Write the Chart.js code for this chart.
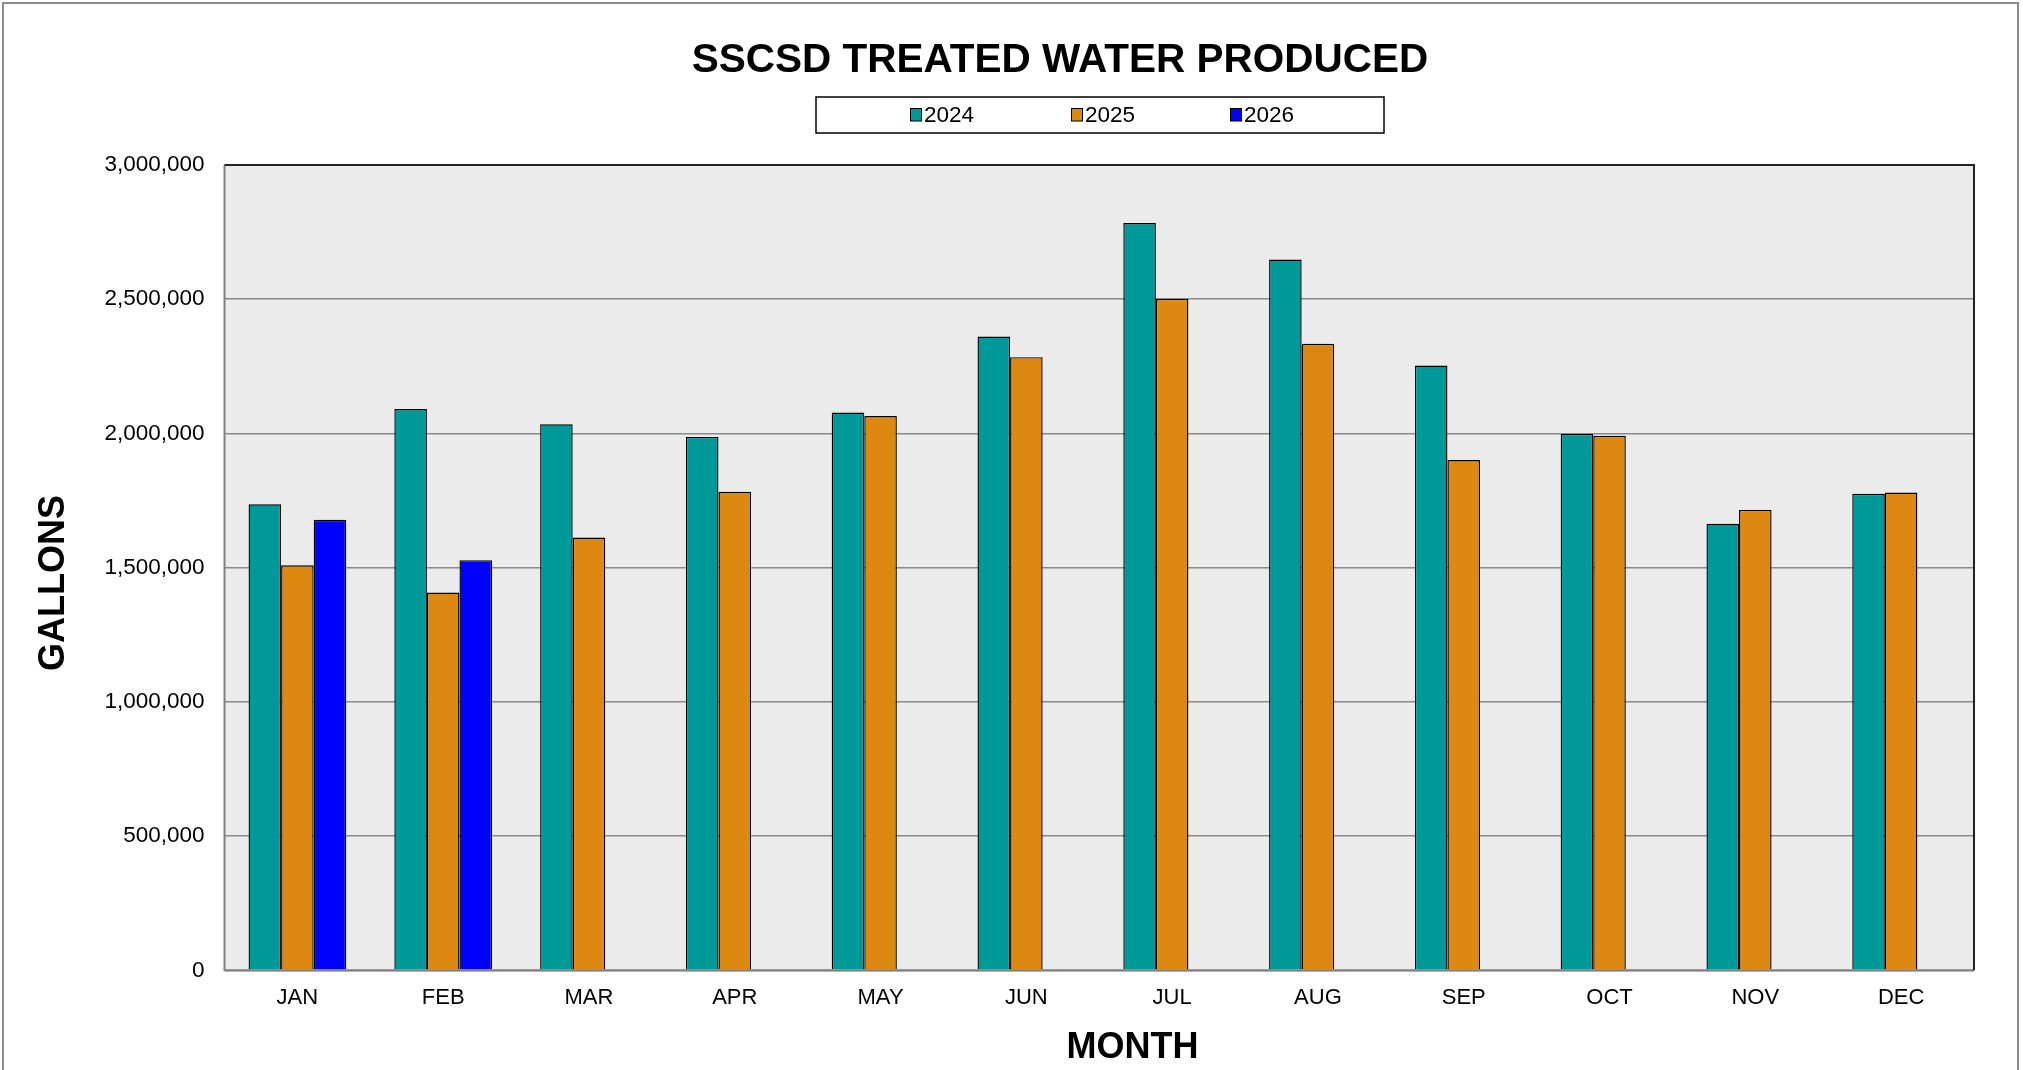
<!DOCTYPE html>
<html>
<head>
<meta charset="utf-8">
<script src="https://cdn.jsdelivr.net/npm/chart.js@4.4.1/dist/chart.umd.min.js"></script>
<style>
  html, body { margin: 0; padding: 0; background: #ffffff; }
  #wrap { width: 2023px; height: 1070px; }
</style>
</head>
<body>
<div id="wrap"><canvas id="c" width="2023" height="1070"></canvas></div>
<script>
const months = ["JAN","FEB","MAR","APR","MAY","JUN","JUL","AUG","SEP","OCT","NOV","DEC"];
const seriesNames = ["2024","2025","2026"];
const values2024 = [1736000,2091000,2034000,1987000,2078000,2361000,2784000,2648000,2253000,1998000,1664000,1775000];
const values2025 = [1509000,1407000,1612000,1783000,2065000,2284000,2501000,2334000,1901000,1991000,1715000,1780000];
const values2026 = [1678000,1528000,null,null,null,null,null,null,null,null,null,null];
const yTicks = [0,500000,1000000,1500000,2000000,2500000,3000000];
const colors = ["#009999","#DD8811","#0000FF"];

const FONT = "'Liberation Sans', Arial, Helvetica, sans-serif";

const decor = {
  id: 'decor',
  beforeDraw(chart) {
    const ctx = chart.ctx, a = chart.chartArea;
    ctx.save();
    ctx.fillStyle = '#ffffff';
    ctx.fillRect(0, 0, chart.width, chart.height);
    ctx.fillStyle = '#EBEBEB';
    ctx.fillRect(a.left, a.top, a.right - a.left, a.bottom - a.top);
    ctx.restore();
  },
  afterDraw(chart) {
    const ctx = chart.ctx, a = chart.chartArea;
    ctx.save();
    // plot border
    ctx.lineWidth = 2;
    ctx.strokeStyle = '#808080';
    ctx.beginPath();
    ctx.moveTo(a.left, a.top); ctx.lineTo(a.left, a.bottom); ctx.lineTo(a.right, a.bottom);
    ctx.stroke();
    ctx.strokeStyle = '#222222';
    ctx.beginPath();
    ctx.moveTo(a.left, a.top); ctx.lineTo(a.right, a.top); ctx.lineTo(a.right, a.bottom);
    ctx.stroke();

    // outer frame
    ctx.strokeStyle = '#8c8c8c';
    ctx.lineWidth = 2;
    ctx.beginPath();
    ctx.moveTo(3, chart.height + 5); ctx.lineTo(3, 3); ctx.lineTo(2018, 3); ctx.lineTo(2018, chart.height + 5);
    ctx.stroke();

    // title
    ctx.fillStyle = '#000000';
    ctx.textAlign = 'center';
    ctx.textBaseline = 'alphabetic';
    ctx.font = 'bold 40.5px ' + FONT;
    ctx.fillText('SSCSD TREATED WATER PRODUCED', 1060, 71.5);

    // legend box
    ctx.fillStyle = '#ffffff';
    ctx.fillRect(816, 97, 568, 36);
    ctx.strokeStyle = '#000000';
    ctx.lineWidth = 1.5;
    ctx.strokeRect(816, 97, 568, 36);
    const itemX = [910, 1071, 1230];
    chart.data.datasets.forEach((ds, i) => {
      const x = itemX[i];
      ctx.fillStyle = ds.backgroundColor;
      ctx.fillRect(x, 108.5, 11, 12.5);
      ctx.lineWidth = 1;
      ctx.strokeStyle = '#000000';
      ctx.strokeRect(x + 0.5, 108.5, 11, 12.5);
      ctx.fillStyle = '#000000';
      ctx.textAlign = 'left';
      ctx.textBaseline = 'alphabetic';
      ctx.font = '22.5px ' + FONT;
      ctx.fillText(ds.label, x + 14, 122);
    });

    // axis titles
    ctx.fillStyle = '#000000';
    ctx.font = 'bold 36px ' + FONT;
    ctx.textAlign = 'center';
    ctx.textBaseline = 'alphabetic';
    ctx.fillText('MONTH', 1132.5, 1057.5);
    ctx.save();
    ctx.translate(64, 583);
    ctx.rotate(-Math.PI / 2);
    ctx.fillText('GALLONS', 0, 0);
    ctx.restore();

    ctx.restore();
  }
};

new Chart(document.getElementById('c'), {
  type: 'bar',
  data: {
    labels: months,
    datasets: [
      { label: seriesNames[0], data: values2024, backgroundColor: colors[0] },
      { label: seriesNames[1], data: values2025, backgroundColor: colors[1] },
      { label: seriesNames[2], data: values2026, backgroundColor: colors[2] }
    ].map(d => Object.assign(d, { borderColor: '#000000', borderWidth: 1.4, borderSkipped: 'bottom' }))
  },
  options: {
    responsive: false,
    animation: false,
    devicePixelRatio: 1,
    layout: { padding: { left: 0, right: 49, top: 165, bottom: 0 } },
    datasets: { bar: { categoryPercentage: 0.67, barPercentage: 1.0 } },
    plugins: {
      legend: { display: false },
      title: { display: false },
      tooltip: { enabled: false }
    },
    scales: {
      x: {
        grid: { display: false },
        border: { display: false },
        ticks: { color: '#000000', font: { family: FONT, size: 22 }, padding: 6, maxRotation: 0 },
        afterFit(scale) { scale.height = 99.7; }
      },
      y: {
        min: 0, max: 3000000,
        afterBuildTicks(scale) { scale.ticks = yTicks.map(v => ({ value: v })); },
        grid: { color: '#8a8a8a', lineWidth: 1.5, drawTicks: false },
        border: { display: false },
        ticks: {
          color: '#000000', font: { family: FONT, size: 22.5 }, padding: 20,
          callback: v => Number(v).toLocaleString('en-US')
        },
        afterFit(scale) { scale.width = 224.5; }
      }
    }
  },
  plugins: [decor]
});
</script>
</body>
</html>
